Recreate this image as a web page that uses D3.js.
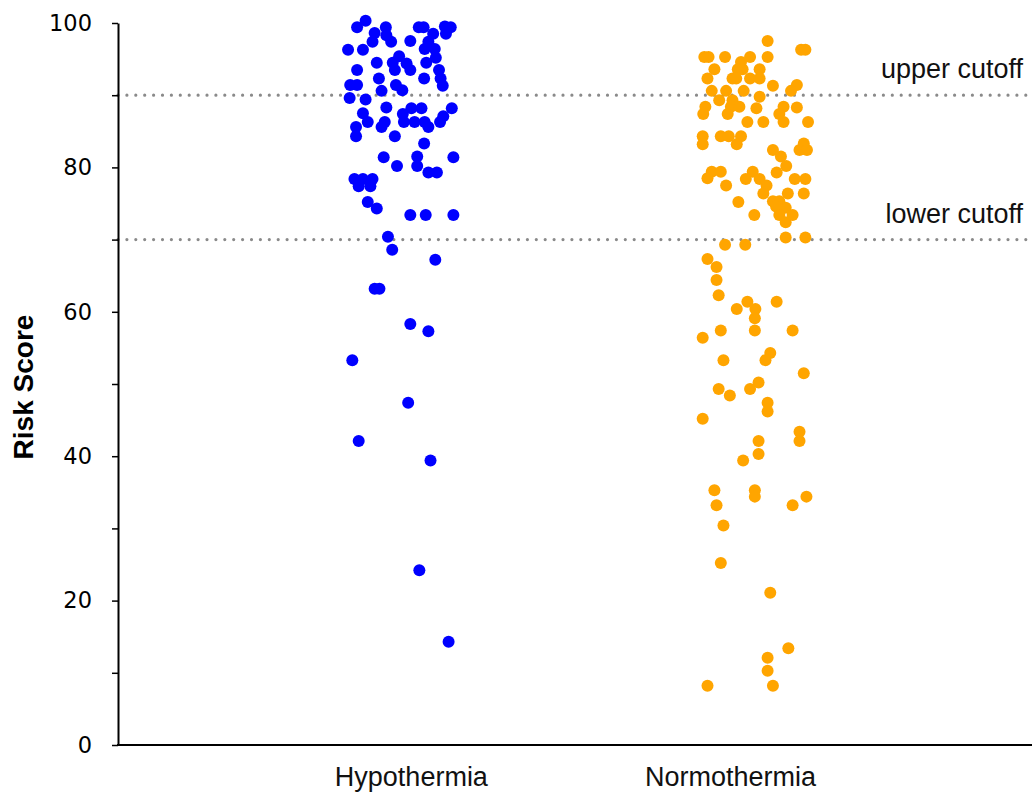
<!DOCTYPE html>
<html>
<head>
<meta charset="utf-8">
<script src="https://cdn.jsdelivr.net/npm/d3@7"></script>
<style>
  body { margin: 0; background: #fff; }
  svg { display: block; }
</style>
</head>
<body>
<svg class="chart"></svg>
<script>
const width = 1032;
const height = 798;

// groups and their category position on the x scale
const groups = ['Hypothermia', 'Normothermia'];
const groupPos = [1, 2];
const labelPos = [1.03, 1.93];
const colors = ['#0000ff', '#ffa500'];

// cutoffs
const cutoffNames = ['upper cutoff', 'lower cutoff'];
const cutoffValues = [90, 70];

const yTicks = [0, 10, 20, 30, 40, 50, 60, 70, 80, 90, 100];

// risk scores + horizontal jitter (-1..1)
const hypoScore = [100.3, 99.4, 99.4, 99.4, 99.4, 99.5, 99.4, 98.5, 98.6, 97.4,
  98.3, 97.4, 97.5, 98.5, 97.4, 96.3, 96.3, 96.4, 96.4, 95.2,
  95.4, 94.5, 94.5, 94.4, 94.5, 93.5, 93.5, 93.5, 93.5, 92.3,
  92.3, 92.3, 91.4, 91.4, 91.4, 90.7, 91.3, 90.6, 89.6, 89.4,
  88.3, 88.2, 88.2, 88.2, 87.5, 87.4, 87.1, 86.3, 86.3, 86.3,
  86.3, 86.3, 86.3, 85.6, 85.6, 85.6, 84.3, 84.3, 83.3, 81.4,
  81.5, 81.4, 80.2, 80.2, 79.3, 79.3, 78.4, 78.4, 78.4, 77.4,
  77.4, 75.2, 74.3, 73.4, 73.4, 73.4, 70.4, 68.6, 67.2, 63.2,
  63.2, 58.3, 57.3, 53.3, 47.4, 42.1, 39.4, 24.2, 14.3];
const hypoJitter = [-0.66, -0.82, -0.28, 0.34, 0.43, 0.83, 0.94, 0.85, -0.49, -0.53,
  -0.27, -0.18, 0.18, 0.61, 0.52, -0.99, -0.71, 0.45, 0.64, 0.66,
  -0.03, -0.45, -0.15, 0.11, 0.48, -0.82, -0.11, 0.18, 0.72, 0.75,
  -0.41, 0.44, -0.95, -0.82, -0.09, 0.03, 0.79, -0.36, -0.96, -0.66,
  -0.27, 0.20, 0.39, 0.96, -0.71, 0.04, 0.80, -0.62, -0.30, 0.06,
  0.26, 0.45, 0.74, -0.84, -0.36, 0.52, -0.84, -0.11, 0.44, -0.32,
  0.31, 0.99, -0.07, 0.31, 0.52, 0.68, -0.87, -0.71, -0.53, -0.79,
  -0.57, -0.62, -0.45, 0.18, 0.47, 0.99, -0.24, -0.16, 0.65, -0.49,
  -0.40, 0.18, 0.52, -0.91, 0.14, -0.79, 0.56, 0.35, 0.90];

const normoScore = [97.5, 96.3, 96.3, 95.3, 95.3, 95.3, 95.3, 95.3, 94.6, 93.6,
  93.6, 93.6, 93.6, 92.3, 92.3, 92.3, 92.3, 92.3, 91.3, 91.4,
  90.6, 90.6, 90.6, 90.6, 89.3, 89.3, 89.8, 88.4, 87.4, 88.4,
  88.4, 87.4, 88.2, 88.4, 88.3, 87.4, 86.3, 86.3, 86.3, 86.3,
  84.3, 83.2, 84.3, 84.3, 84.3, 83.2, 83.3, 82.4, 82.4, 82.4,
  81.5, 80.2, 79.3, 79.4, 79.4, 78.5, 79.4, 78.4, 78.4, 78.4,
  78.4, 77.5, 77.5, 76.4, 76.4, 76.4, 75.2, 75.3, 75.3, 74.6,
  74.4, 73.4, 73.4, 73.4, 72.4, 70.3, 70.3, 69.3, 69.3, 67.3,
  66.2, 64.4, 62.3, 61.4, 61.4, 60.4, 60.4, 59.1, 57.4, 57.4,
  57.4, 56.4, 54.3, 53.3, 53.3, 51.5, 50.2, 49.3, 49.3, 48.4,
  47.4, 46.2, 45.2, 43.4, 42.1, 42.1, 40.3, 39.4, 35.3, 35.3,
  34.4, 34.4, 33.2, 33.2, 30.4, 25.2, 21.1, 13.4, 12.1, 10.3,
  8.2, 8.2];
const normoJitter = [0.23, 0.86, 0.94, -0.96, -0.88, -0.57, -0.10, 0.23, -0.27, -0.77,
  -0.33, -0.24, 0.08, -0.90, -0.43, -0.36, -0.10, 0.08, 0.33, 0.78,
  -0.82, -0.55, -0.22, 0.67, -0.68, -0.43, 0.08, -0.94, -0.98, -0.46,
  -0.30, -0.52, 0.02, 0.53, 0.78, 0.45, -0.15, 0.15, 0.53, 0.99,
  -0.99, -0.99, -0.65, -0.50, -0.27, -0.35, 0.91, 0.83, 0.97, 0.33,
  0.48, 0.58, 0.40, -0.82, -0.65, -0.90, -0.05, -0.18, 0.08, 0.74,
  0.94, -0.55, 0.21, 0.15, 0.61, 0.91, -0.32, 0.33, 0.45, 0.39,
  0.57, 0.45, 0.70, -0.02, 0.57, 0.57, 0.94, -0.57, -0.19, -0.90,
  -0.73, -0.73, -0.69, -0.15, 0.40, -0.35, 0.00, -0.01, -0.65, -0.01,
  0.70, -0.99, 0.28, 0.19, -0.60, 0.91, 0.06, -0.69, -0.10, -0.48,
  0.23, 0.23, -0.99, 0.83, 0.83, 0.06, 0.06, -0.23, -0.77, -0.01,
  -0.01, 0.96, -0.73, 0.70, -0.60, -0.65, 0.28, 0.62, 0.23, 0.23,
  -0.90, 0.33];

const jitterWidth = 0.15;

const svg = d3.select('svg.chart')
	.attr('width', width)
	.attr('height', height);

const margin = { top: 23, right: 0, bottom: 53, left: 117 };

const x = d3.scaleLinear()
	.domain([0.2, 2.78])
	.range([margin.left, width - margin.right]);

const y = d3.scaleLinear()
	.domain([0, 100])
	.range([height - margin.bottom, margin.top]);

// cutoff lines
const cutoffs = cutoffValues.map((v, i) => ({ value: v, name: cutoffNames[i] }));

svg.selectAll('line.cutoff')
	.data(cutoffs)
	.enter().append('line')
	.attr('class', 'cutoff')
	.attr('x1', margin.left + 1)
	.attr('x2', width)
	.attr('y1', d => y(d.value))
	.attr('y2', d => y(d.value))
	.attr('stroke', '#8a8a8a')
	.attr('stroke-width', 3.2)
	.attr('stroke-linecap', 'round')
	.attr('stroke-dasharray', '0 8.9');

svg.selectAll('text.cutoff')
	.data(cutoffs)
	.enter().append('text')
	.attr('class', 'cutoff')
	.attr('x', 1023)
	.attr('y', d => y(d.value) - 17)
	.attr('text-anchor', 'end')
	.attr('font-family', 'Liberation Sans, Arial, sans-serif')
	.attr('font-size', 27)
	.attr('fill', '#111')
	.text(d => d.name);

// points
const series = [
	{ scores: hypoScore, jitter: hypoJitter },
	{ scores: normoScore, jitter: normoJitter }
];

series.forEach((s, gi) => {
	svg.append('g')
		.selectAll('circle')
		.data(s.scores.map((v, i) => ({ v, j: s.jitter[i] })))
		.enter().append('circle')
		.attr('cx', d => x(groupPos[gi] + d.j * jitterWidth))
		.attr('cy', d => y(d.v))
		.attr('r', 6)
		.attr('fill', colors[gi]);
});

// y axis
const yAxis = svg.append('g')
	.attr('transform', `translate(${margin.left + 1}, 0)`)
	.call(d3.axisLeft(y)
		.tickValues(yTicks)
		.tickSize(6)
		.tickSizeOuter(0)
		.tickPadding(20)
		.tickFormat(d => d % 20 === 0 ? d : ''));

yAxis.select('.domain').attr('stroke', '#000').attr('stroke-width', 2);
yAxis.selectAll('.tick line').attr('stroke', '#000').attr('stroke-width', 1.5);
yAxis.selectAll('.tick text')
	.attr('font-family', 'DejaVu Sans, Verdana, sans-serif')
	.attr('font-size', 22.5)
	.attr('fill', '#000');

// x axis line
svg.append('line')
	.attr('x1', margin.left)
	.attr('x2', width)
	.attr('y1', y(0))
	.attr('y2', y(0))
	.attr('stroke', '#000')
	.attr('stroke-width', 2);

svg.selectAll('text.group')
	.data(groups)
	.enter().append('text')
	.attr('class', 'group')
	.attr('x', (d, i) => x(labelPos[i]))
	.attr('y', 786)
	.attr('text-anchor', 'middle')
	.attr('font-family', 'Liberation Sans, Arial, sans-serif')
	.attr('font-size', 27)
	.attr('fill', '#111')
	.text(d => d);

// y title
svg.append('text')
	.attr('transform', `translate(33, ${(y(0) + y(100)) / 2 + 3}) rotate(-90)`)
	.attr('text-anchor', 'middle')
	.attr('font-family', 'Liberation Sans, Arial, sans-serif')
	.attr('font-weight', 'bold')
	.attr('font-size', 28)
	.attr('fill', '#000')
	.text('Risk Score');
</script>
</body>
</html>
